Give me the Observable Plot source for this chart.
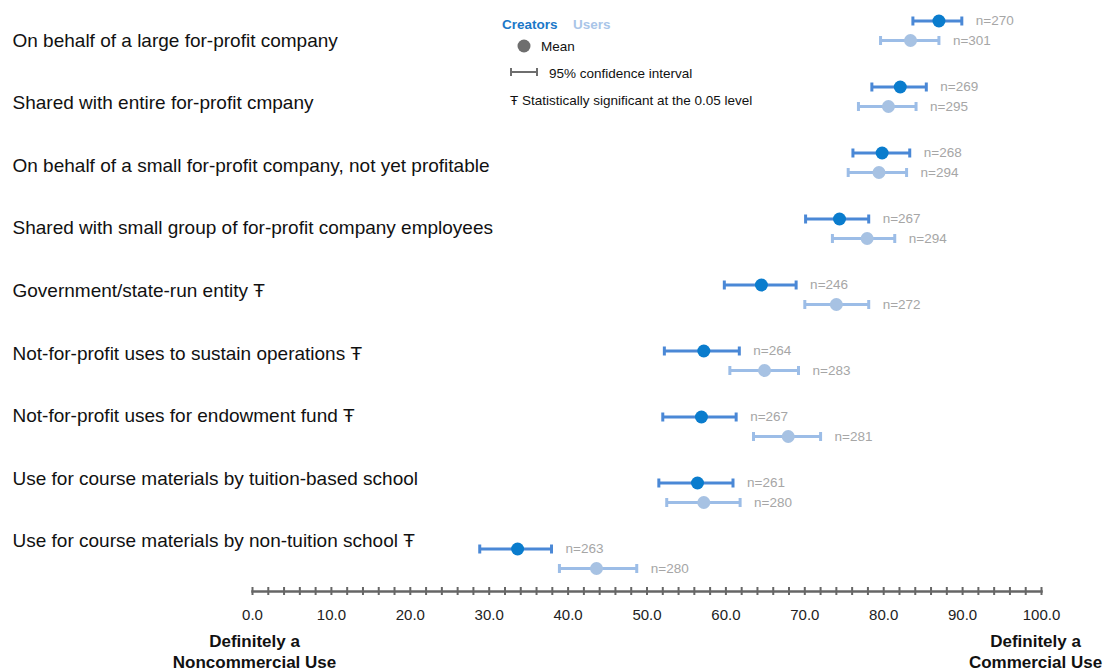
<!DOCTYPE html>
<html>
<head>
<meta charset="utf-8">
<script src="https://cdn.jsdelivr.net/npm/d3@7"></script>
<script src="https://cdn.jsdelivr.net/npm/@observablehq/plot@0.6"></script>
<style>
  html, body { margin: 0; padding: 0; background: #fff; }
  #wrap { position: relative; width: 1107px; height: 671px; font-family: "Liberation Sans", Arial, sans-serif; }
  #legend { position: absolute; left: 0; top: 0; pointer-events: none; }
</style>
</head>
<body>
<div id="wrap">
  <div id="chart"></div>
  <svg id="legend" width="1107" height="120" font-family="Liberation Sans, Arial, sans-serif">
    <text x="502" y="29" font-size="13.5" font-weight="bold" fill="#1a78c8">Creators</text>
    <text x="573" y="29" font-size="13.5" font-weight="bold" fill="#a9c5e8">Users</text>
    <circle cx="524" cy="46" r="6.5" fill="#6e6e6e"></circle>
    <text x="541" y="51" font-size="13.5" fill="#111">Mean</text>
    <line x1="510" x2="538" y1="72" y2="72" stroke="#6e6e6e" stroke-width="2"></line>
    <line x1="511" x2="511" y1="68" y2="76" stroke="#6e6e6e" stroke-width="2"></line>
    <line x1="537" x2="537" y1="68" y2="76" stroke="#6e6e6e" stroke-width="2"></line>
    <text x="549" y="78" font-size="13.5" fill="#111">95% confidence interval</text>
    <text x="510" y="105" font-size="13.5" fill="#111">Ŧ Statistically significant at the 0.05 level</text>
  </svg>
</div>
<script>
const categories = [
  "On behalf of a large for-profit company",
  "Shared with entire for-profit cmpany",
  "On behalf of a small for-profit company, not yet profitable",
  "Shared with small group of for-profit company employees",
  "Government/state-run entity Ŧ",
  "Not-for-profit uses to sustain operations Ŧ",
  "Not-for-profit uses for endowment fund Ŧ",
  "Use for course materials by tuition-based school",
  "Use for course materials by non-tuition school Ŧ"
];
const creatorMean = [87.0, 82.1, 79.8, 74.4, 64.5, 57.2, 56.9, 56.4, 33.6];
const creatorLow  = [83.7, 78.5, 76.1, 70.1, 59.8, 52.2, 52.0, 51.5, 28.8];
const creatorHigh = [89.9, 85.4, 83.3, 78.1, 68.9, 61.7, 61.3, 60.9, 37.9];
const creatorN    = [270, 269, 268, 267, 246, 264, 267, 261, 263];
const userMean = [83.4, 80.6, 79.4, 77.9, 74.0, 64.9, 67.9, 57.2, 43.6];
const userLow  = [79.6, 76.8, 75.5, 73.5, 70.0, 60.5, 63.5, 52.5, 38.9];
const userHigh = [87.0, 84.1, 82.9, 81.4, 78.1, 69.2, 72.0, 61.8, 48.7];
const userN    = [301, 295, 294, 294, 272, 283, 281, 280, 280];
const minorTicks = d3.range(0, 101, 2);
const majorTicks = d3.range(0, 101, 10);
const leftEndLabel = "Definitely a\nNoncommercial Use";
const rightEndLabel = "Definitely a\nCommercial Use";

const creators = categories.map((c, i) => ({category: c, mean: creatorMean[i], low: creatorLow[i], high: creatorHigh[i], n: creatorN[i]}));
const users = categories.map((c, i) => ({category: c, mean: userMean[i], low: userLow[i], high: userHigh[i], n: userN[i]}));

const series = [
  {data: creators, dy: -9.5, dot: "#0a7ccd", line: "#4a88d6"},
  {data: users, dy: 10, dot: "#a7c2e3", line: "#9cbde7"}
];

// vertical cap symbol for the confidence-interval ends
const capSymbol = {
  draw(context, size) {
    const h = Math.sqrt(size / Math.PI);
    context.moveTo(0, -h);
    context.lineTo(0, h);
  }
};

const marks = [];
for (const s of series) {
  marks.push(Plot.ruleY(s.data, {x1: "low", x2: "high", y: "category", dy: s.dy, stroke: s.line, strokeWidth: 3}));
  marks.push(Plot.dot(s.data, {x: "low", y: "category", dy: s.dy, symbol: capSymbol, r: 4.5, stroke: s.line, strokeWidth: 3, fill: "none"}));
  marks.push(Plot.dot(s.data, {x: "high", y: "category", dy: s.dy, symbol: capSymbol, r: 4.5, stroke: s.line, strokeWidth: 3, fill: "none"}));
  marks.push(Plot.dot(s.data, {x: "mean", y: "category", dy: s.dy, r: 6.5, fill: s.dot, stroke: "none"}));
  marks.push(Plot.text(s.data, {x: "high", y: "category", dy: s.dy, dx: 14, text: d => "n=" + d.n, textAnchor: "start", fill: "#a6a6a6", fontSize: 13.5}));
}
categories.forEach((c, i) => {
  marks.push(Plot.text([c], {y: d => d, text: d => d, frameAnchor: "left", dx: -240, dy: 10 - 3.4 * i, textAnchor: "start", fill: "#111", fontSize: 19}));
});
marks.push(Plot.frame({anchor: "bottom", stroke: "#666", strokeWidth: 2.5}));
marks.push(Plot.axisX({ticks: minorTicks, tickSize: 8, dy: -4, tickFormat: () => "", stroke: "#666", strokeWidth: 2, label: null}));
marks.push(Plot.axisX({ticks: majorTicks, tickSize: 0, tickPadding: 18, tickFormat: d3.format(".1f"), fontSize: 15, fill: "#222", label: null}));
marks.push(Plot.text([0], {x: d => d, text: () => leftEndLabel, frameAnchor: "bottom", dy: 76, dx: 2, fontSize: 17, fontWeight: "bold", fill: "#111", lineHeight: 1.235}));
marks.push(Plot.text([100], {x: d => d, text: () => rightEndLabel, frameAnchor: "bottom", dy: 76, dx: -6, fontSize: 17, fontWeight: "bold", fill: "#111", lineHeight: 1.235}));

const chart = Plot.plot({
  width: 1107,
  height: 671,
  marginLeft: 252,
  marginRight: 66,
  marginTop: 0,
  marginBottom: 80,
  style: {fontFamily: "Liberation Sans, Arial, sans-serif", background: "#fff"},
  x: {domain: [0, 100], label: null},
  y: {type: "point", domain: categories, range: [29.5, 557.5], padding: 0, axis: null, label: null},
  marks
});
document.getElementById("chart").appendChild(chart);
</script>
</body>
</html>
